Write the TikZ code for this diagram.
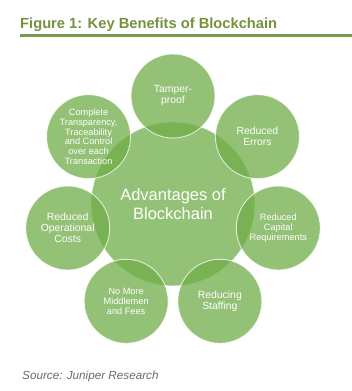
\documentclass[tikz,border=0pt]{standalone}
\usepackage{fontspec}
\setmainfont{Liberation Sans}
\usetikzlibrary{calc}
\definecolor{cgreen}{HTML}{70AD47}
\definecolor{titlegreen}{RGB}{118,146,60}
\definecolor{rulegreen}{RGB}{122,154,74}
\definecolor{srcgray}{RGB}{105,105,115}
\begin{document}
\begin{tikzpicture}[x=1pt,y=1pt,
  bubble/.style={circle, fill=cgreen, draw=white, line width=0.9pt, opacity=0.75, text opacity=1, text=white, align=center, inner sep=0pt},
  sat/.style={bubble, minimum size=84pt, font=\fontsize{10.4}{11}\selectfont},
  satsmall/.style={bubble, minimum size=84pt, font=\fontsize{9.2}{9.8}\selectfont},
  hubstyle/.style={bubble, minimum size=164pt, font=\fontsize{16.5}{18.5}\selectfont}
]
\useasboundingbox (0,0) rectangle (352,391);
\fill[white] (0,0) rectangle (352,391);
\node[anchor=base west, inner sep=0pt, text=titlegreen, font=\bfseries\fontsize{14.7}{16}\selectfont] (title) at (20,362) {Figure 1: Key Benefits of Blockchain};
\coordinate (ruleL) at (20,355.5);
\coordinate (ruleR) at (352,355.5);
\draw[rulegreen, line width=2.2pt] (ruleL) -- (ruleR);
\node[hubstyle] (hub) at (173,187) {Advantages of\\Blockchain};
\node[sat] (s0) at ($(hub.center)+(90:108)$) {Tamper-\\proof};
\node[sat] (s1) at ($(hub.center)+(38.57:108)$) {Reduced\\Errors};
\node[satsmall] (s2) at ($(hub.center)+(-12.86:108)$) {Reduced\\Capital\\Requirements};
\node[sat] (s3) at ($(hub.center)+(-64.29:108)$) {Reducing\\Staffing};
\node[satsmall] (s4) at ($(hub.center)+(-115.71:108)$) {No More\\Middlemen\\and Fees};
\node[sat] (s5) at ($(hub.center)+(-167.14:108)$) {Reduced\\Operational\\Costs};
\node[satsmall] (s6) at ($(hub.center)+(141.43:108)$) {Complete\\Transparency,\\Traceability\\and Control\\over each\\Transaction};
\node[anchor=base west, inner sep=0pt, text=srcgray, font=\itshape\fontsize{11.7}{13}\selectfont] (src) at (22,12) {Source: Juniper Research};
\end{tikzpicture}
\end{document}
